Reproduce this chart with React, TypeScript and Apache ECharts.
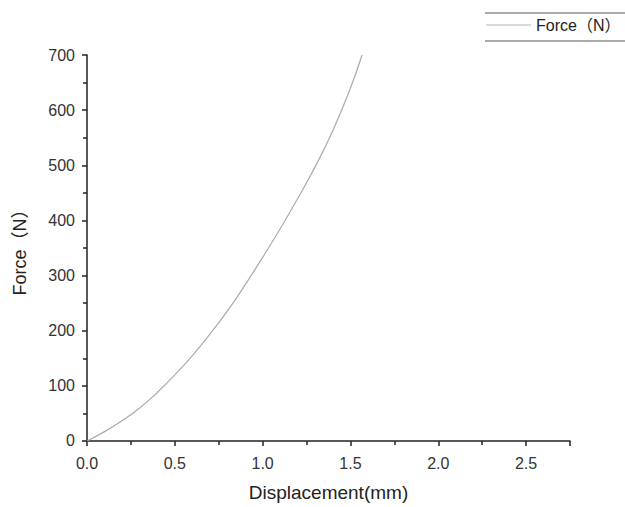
import React, { useEffect, useRef } from "react";
import * as echarts from "echarts";

const displacement = [0, 0.1, 0.2, 0.3, 0.4, 0.5, 0.6, 0.7, 0.8, 0.9, 1.0, 1.1, 1.2, 1.3, 1.4, 1.5, 1.566];
const force = [0, 17, 37, 60, 88, 120, 155, 194, 236, 283, 333, 385, 440, 498, 563, 640, 700];
const seriesName = "Force（N）";
const xTitle = "Displacement(mm)";
const yTitle = "Force（N）";

const FONT = "'Liberation Sans', Arial, 'Noto Sans CJK SC', sans-serif";

export default function App() {
  const ref = useRef<HTMLDivElement>(null);
  useEffect(() => {
    if (!ref.current) return;
    const chart = echarts.init(ref.current, undefined, { renderer: "svg" });
    const data = displacement.map((x, i) => [x, force[i]]);
    chart.setOption({
      animation: false,
      backgroundColor: "#ffffff",
      textStyle: { fontFamily: FONT },
      grid: { left: 87, right: 55, top: 55, bottom: 63 },
      legend: {
        left: 486,
        top: 17,
        padding: 0,
        icon: "rect",
        itemWidth: 45,
        itemHeight: 1,
        data: [seriesName],
        itemStyle: { color: "#b5b5b5" },
        textStyle: { fontSize: 16, color: "#222", fontFamily: FONT },
      },
      graphic: [
        { type: "line", shape: { x1: 485, y1: 13, x2: 625, y2: 13 }, style: { stroke: "#555", lineWidth: 1 } },
        { type: "line", shape: { x1: 485, y1: 41, x2: 625, y2: 41 }, style: { stroke: "#555", lineWidth: 1 } },
      ],
      xAxis: {
        type: "value",
        min: 0,
        max: 2.75,
        interval: 0.5,
        name: xTitle,
        nameLocation: "middle",
        nameGap: 42,
        nameTextStyle: { fontSize: 19, color: "#222", fontFamily: FONT },
        axisLine: { show: true, onZero: false, lineStyle: { color: "#222", width: 1.5 } },
        axisTick: { show: true, length: 5, lineStyle: { color: "#222", width: 1.5 } },
        minorTick: { show: true, splitNumber: 2, length: 4, lineStyle: { color: "#222", width: 1.5 } },
        splitLine: { show: false },
        axisLabel: {
          fontSize: 16,
          color: "#333",
          margin: 14,
          showMaxLabel: false,
          formatter: (v: number) => v.toFixed(1),
        },
      },
      yAxis: {
        type: "value",
        min: 0,
        max: 700,
        interval: 100,
        name: yTitle,
        nameLocation: "middle",
        nameGap: 58,
        nameRotate: 90,
        nameTextStyle: { fontSize: 18, color: "#222", fontFamily: FONT },
        axisLine: { show: true, onZero: false, lineStyle: { color: "#222", width: 1.5 } },
        axisTick: { show: true, length: 5, lineStyle: { color: "#222", width: 1.5 } },
        minorTick: { show: true, splitNumber: 2, length: 4, lineStyle: { color: "#222", width: 1.5 } },
        splitLine: { show: false },
        axisLabel: { fontSize: 16, color: "#333", margin: 12 },
      },
      series: [
        {
          name: seriesName,
          type: "line",
          data,
          smooth: 0.5,
          symbol: "none",
          lineStyle: { color: "#aaaaaa", width: 1.2 },
          itemStyle: { color: "#aaaaaa" },
        },
      ],
    });
    return () => chart.dispose();
  }, []);
  return <div ref={ref} style={{ width: 625, height: 507, position: "absolute", left: 0, top: 0 }} />;
}
